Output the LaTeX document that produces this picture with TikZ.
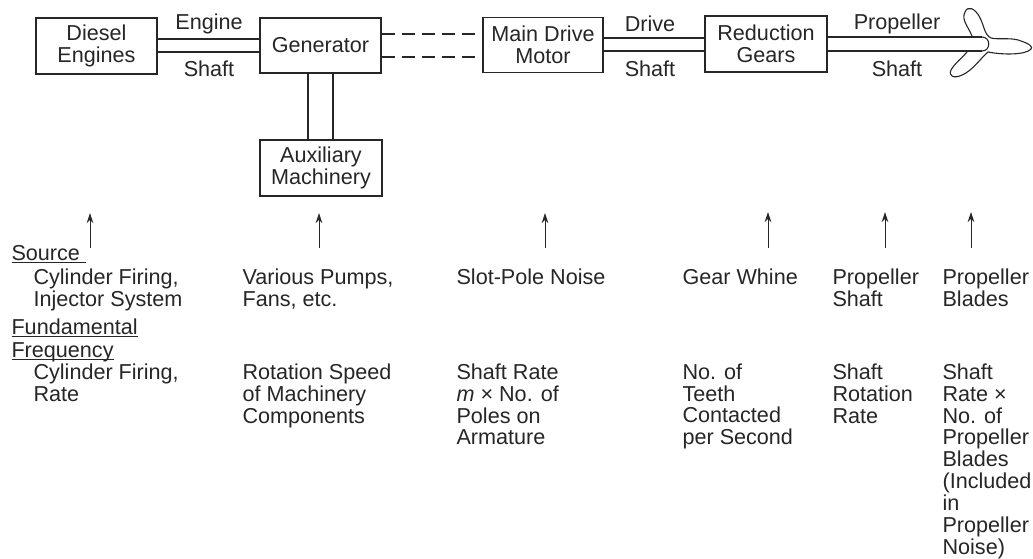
\documentclass[tikz,border=0pt]{standalone}
\usepackage{fontspec}
\setmainfont{Liberation Sans}
\usetikzlibrary{arrows.meta}
\tikzset{
  unit/.style={draw,line width=1.1pt,inner sep=0pt,align=center,font=\fontsize{21.6}{21.8}\selectfont},
  shaftlabel/.style={inner sep=0pt,font=\fontsize{21.6}{22}\selectfont},
  note/.style={anchor=north west,inner sep=0pt,align=left,font=\fontsize{21.6}{21.9}\selectfont}
}
\begin{document}
\begin{tikzpicture}[x=1pt,y=-1pt,black!85,line width=1.1pt]
      \useasboundingbox (0,0) rectangle (1033,558);
      \draw
        (96.5,46) node[unit,minimum width=121pt,minimum height=56pt] (diesel){Diesel\\Engines}
        (320.5,45.5) node[unit,minimum width=121pt,minimum height=55pt] (gen){Generator}
        (321,168) node[unit,minimum width=122pt,minimum height=56pt] (aux){Auxiliary\\Machinery}
        (543,45) node[unit,minimum width=120pt,minimum height=55pt] (motor){Main Drive\\Motor}
        (766,44) node[unit,minimum width=122pt,minimum height=56pt] (gears){Reduction\\Gears};
      \path
        (209,24) node[shaftlabel] (l1){Engine}
        (209,69) node[shaftlabel] (l2){Shaft}
        (650,24) node[shaftlabel] (l3){Drive}
        (650,69) node[shaftlabel] (l4){Shaft}
        (897,24) node[shaftlabel] (l5){Propeller}
        (897,69) node[shaftlabel] (l6){Shaft};
      \begin{scope}[-]
        \draw ([yshift=7pt]diesel.east) to ([yshift=6.5pt]gen.west);
        \draw ([yshift=-6pt]diesel.east) to ([yshift=-6.5pt]gen.west);
        \draw (gen.south -| 308,0) to (aux.north -| 308,0);
        \draw (gen.south -| 333,0) to (aux.north -| 333,0);
        \draw[dash pattern=on 13pt off 7pt] ([yshift=11.5pt]gen.east) to ([yshift=11pt]motor.west);
        \draw[dash pattern=on 13pt off 7pt] ([yshift=-11.5pt]gen.east) to ([yshift=-12pt]motor.west);
        \draw ([yshift=7pt]motor.east) to ([yshift=6pt]gears.west);
        \draw ([yshift=-6pt]motor.east) to ([yshift=-7pt]gears.west);
      \end{scope}
      \coordinate (hubt) at (982,37);
      \coordinate (hubb) at (982,51);
      \draw ([yshift=7pt]gears.east) to (hubt);
      \draw ([yshift=-7pt]gears.east) to (hubb);
      \draw (hubt) .. controls (991,37) and (991,51) .. (hubb);
      \draw (972,36) .. controls (968,26) and (961,20) .. (965,12)
        .. controls (968,5) and (975,9) .. (979,16)
        .. controls (984,24) and (984,35) .. (991,38)
        .. controls (999,40) and (1012,37) .. (1021,41)
        .. controls (1030,44) and (1033,47) .. (1031,49)
        .. controls (1026,55) and (1003,55) .. (988,52)
        .. controls (979,60) and (972,71) .. (962,75)
        .. controls (954,79) and (948,76) .. (951,70)
        .. controls (955,63) and (962,58) .. (967,52);
      \path
        (90,248) coordinate (a1) (90,213) coordinate (b1)
        (319,248) coordinate (a2) (319,213) coordinate (b2)
        (545,248) coordinate (a3) (545,213) coordinate (b3)
        (768,248) coordinate (a4) (768,212) coordinate (b4)
        (885,248) coordinate (a5) (885,212) coordinate (b5)
        (971,248) coordinate (a6) (971,212) coordinate (b6);
      \begin{scope}[-{Stealth[length=10pt,width=6.5pt]},line width=0.9pt]
        \draw (a1) to (b1);
        \draw (a2) to (b2);
        \draw (a3) to (b3);
        \draw (a4) to (b4);
        \draw (a5) to (b5);
        \draw (a6) to (b6);
      \end{scope}
      \path
        (11,245) node[note] (src){\underline{Source\ }}
        (33,268) node[note] (c1){Cylinder Firing,\\Injector System}
        (11,318.5) node[note] (fund){\underline{Fundamental}\\[1pt]\underline{\smash{Frequency}}}
        (33,363) node[note] (c1f){Cylinder Firing,\\Rate}
        (242,268) node[note] (c2){Various Pumps,\\Fans, etc.}
        (242,363) node[note] (c2f){Rotation Speed\\of Machinery\\Components}
        (456,268) node[note] (c3){Slot-Pole Noise}
        (456,363) node[note] (c3f){Shaft Rate\\\textit{m} × No. of\\Poles on\\Armature}
        (682,268) node[note] (c4){Gear Whine}
        (682,363) node[note] (c4f){No. of\\Teeth\\Contacted\\per Second}
        (832,268) node[note] (c5){Propeller\\Shaft}
        (832,363) node[note] (c5f){Shaft\\Rotation\\Rate}
        (942,268) node[note] (c6){Propeller\\Blades}
        (942,363) node[note] (c6f){Shaft\\Rate ×\\No. of\\Propeller\\Blades\\(Included\\in\\Propeller\\Noise)};
    \end{tikzpicture}
\end{document}
